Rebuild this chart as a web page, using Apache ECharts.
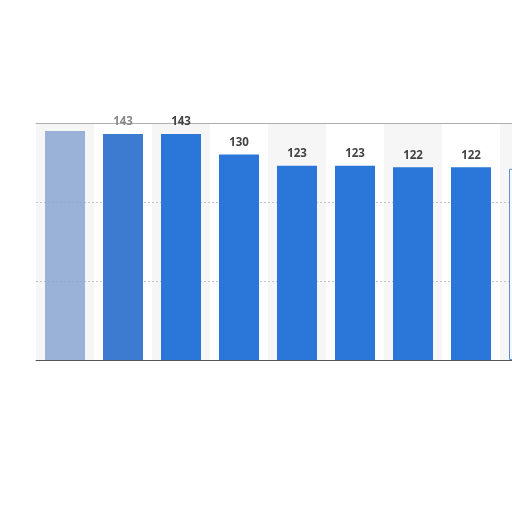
<!DOCTYPE html>
<html>
<head>
<meta charset="utf-8">
<script src="https://cdn.jsdelivr.net/npm/echarts@6/dist/echarts.min.js"></script>
<style>
  html, body { margin: 0; padding: 0; background: #fff; }
  #chart { width: 512px; height: 512px; }
</style>
</head>
<body>
<div id="chart"></div>
<script>
// values (categories are cut off in the picture)
var categories = ["1", "2", "3", "4", "5", "6", "7", "8", "9"];
var values = [145, 143, 143, 130, 123, 123, 122, 122, 121];
var yTicks = [0, 50, 100, 150];

var chart = echarts.init(document.getElementById("chart"));

// first two columns are smeared in the picture, the last one is cut by the edge
var barData = values.map(function (v, i) {
    var item = { value: v };
    if (i == 0) {
        item.itemStyle = { color: "#8aa6d2", opacity: 0.85 };
        item.label = { show: false };
    } else if (i == 1) {
        item.itemStyle = { color: "#3c7bd0" };
        item.label = { color: "#888" };
    } else if (i == categories.length - 1) {
        item.itemStyle = { color: "#f4f7fc", borderColor: "#5b8fd6", borderWidth: 1 };
        item.label = { show: false };
    }
    return item;
});

var hiddenAxis = { axisTick: { show: false }, axisLabel: { show: false } };

var options = {
    animation: false,
    backgroundColor: "#fff",
    grid: { left: 36, top: 123, width: 522, height: 237, outerBoundsMode: "none", containLabel: false },
    xAxis: [
        // baseline, drawn over the dotted grid
        Object.assign({
            type: "category",
            data: categories,
            z: 2,
            axisLine: { lineStyle: { color: "#555", width: 1 } }
        }, hiddenAxis),
        // top border
        Object.assign({
            type: "category",
            position: "top",
            data: categories,
            z: 2,
            axisLine: { lineStyle: { color: "#b0b0b0", width: 1 } }
        }, hiddenAxis),
        // alternating column shading, under everything
        Object.assign({
            type: "category",
            data: categories,
            z: 0,
            axisLine: { show: false },
            splitArea: { show: true, areaStyle: { color: ["#f6f6f6", "#ffffff"] } }
        }, hiddenAxis)
    ],
    yAxis: {
        type: "value",
        min: yTicks[0],
        max: yTicks[yTicks.length - 1],
        interval: 50,
        z: 1,
        axisLine: { show: false },
        axisTick: { show: false },
        axisLabel: { show: false },
        splitLine: { lineStyle: { color: "#c4c4c4", type: [2, 2], width: 1 } }
    },
    series: [
        {
            type: "bar",
            data: barData,
            barWidth: 40,
            z: 3,
            itemStyle: { color: "#2a76d9" },
            label: {
                show: true,
                position: "top",
                distance: 6,
                fontFamily: "Open Sans",
                fontWeight: "bold",
                fontSize: 11.5,
                color: "#444"
            }
        }
    ]
};

chart.setOption(options);
</script>
</body>
</html>
